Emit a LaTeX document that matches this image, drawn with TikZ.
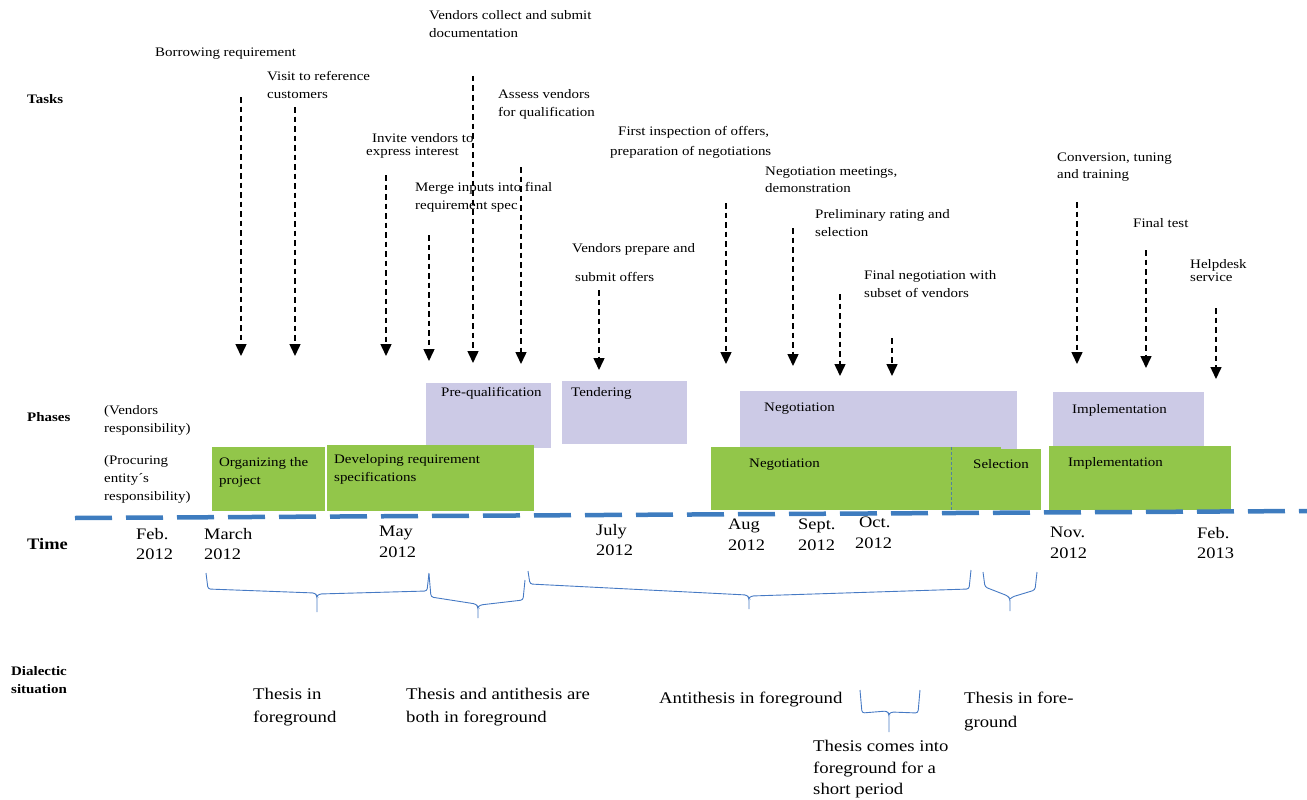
\documentclass[tikz,border=0pt]{standalone}
\usepackage{fontspec}
\setmainfont{Liberation Serif}
\newfontfamily\ser[FakeStretch=1.15]{Liberation Serif}
\usetikzlibrary{arrows.meta}
\definecolor{lav}{RGB}{204,202,230}
\definecolor{grn}{RGB}{146,198,74}
\definecolor{axblue}{RGB}{62,124,191}
\definecolor{brblue}{RGB}{70,122,196}
\definecolor{divblue}{RGB}{80,130,160}
\tikzset{
  tsk/.style={anchor=north west, inner sep=0pt, align=left, yshift=-1.5pt, font=\ser\fontsize{13}{18}\selectfont},
  lbl/.style={anchor=north west, inner sep=0pt, align=left, font=\ser\bfseries\fontsize{13}{18}\selectfont},
  tim/.style={anchor=north west, inner sep=0pt, align=left, yshift=-2pt, font=\ser\fontsize{16}{20.5}\selectfont},
  dia/.style={anchor=north west, inner sep=0pt, align=left, yshift=-2pt, font=\ser\fontsize{16.3}{22.5}\selectfont},
  arr/.style={draw, line width=1.5pt, dash pattern=on 5.5pt off 4pt, -{Triangle[length=12pt,width=11pt]}},
  axisline/.style={draw=axblue, line width=4.5pt, dash pattern=on 37pt off 14pt},
  brc/.style={draw=brblue, line width=0.9pt, rounded corners=2.5pt},
  lavbox/.style={fill=lav},
  grnbox/.style={fill=grn},
}
\newcommand\mybrace[9]{%
  \draw[brc] (#1,#2) -- ({#1+2},#3) -- ({#4-2},#5) -- (#4,{#5+3}) -- (#4,#6);
  \draw[brc] (#4,{#5+3}) -- ({#4+2},{#5+1}) -- ({#8-2},#7) -- (#8,#9);
}
\begin{document}
\begin{tikzpicture}[x=1pt,y=-1pt]
\useasboundingbox (0,0) rectangle (1307,800);

% ---------- left labels ----------
\node[lbl] (tasks) at (27,94) {Tasks};
\node[lbl] (phases) at (27,412) {Phases};
\node[tsk] (vresp) at (104,404) {(Vendors\\responsibility)};
\node[tsk] (presp) at (104,454) {(Procuring\\entity´s\\responsibility)};
\node[lbl, font=\ser\bfseries\fontsize{16}{20}\selectfont] (time) at (27,538) {Time};
\node[lbl] (dial) at (11,666) {Dialectic\\situation};

% ---------- phase boxes ----------
\path[lavbox] (426,383) rectangle (551,448);
\path[lavbox] (562,381) rectangle (687,444);
\path[lavbox] (740,391) rectangle (1017,449);
\path[lavbox] (1053,392) rectangle (1204,446);
\path[grnbox] (212,447) rectangle (325,511);
\path[grnbox] (327,445) rectangle (534,511);
\path[grnbox] (711,447) rectangle (1001,510);
\path[grnbox] (951,449) rectangle (1041,510);
\path[grnbox] (1049,446) rectangle (1231,510);
\coordinate (divtop) at (951,447);
\coordinate (divbot) at (951,510);
\draw[divblue, line width=0.9pt, dash pattern=on 3pt off 2pt] (divtop) -- (divbot);

\node[tsk] (pq) at (441,386) {Pre-qualification};
\node[tsk] (tend) at (571,386) {Tendering};
\node[tsk] (negv) at (764,401) {Negotiation};
\node[tsk] (implv) at (1072,403) {Implementation};
\node[tsk] (org) at (219,456) {Organizing the\\project};
\node[tsk] (dev) at (334,453) {Developing requirement\\specifications};
\node[tsk] (negp) at (749,457) {Negotiation};
\node[tsk] (sel) at (973,458) {Selection};
\node[tsk] (implp) at (1068,456) {Implementation};

% ---------- time axis ----------
\coordinate (axL) at (75,518);
\coordinate (axR) at (1307,511);
\draw[axisline] (axL) -- (axR);

\node[tim] (m1) at (136,526) {Feb.\\2012};
\node[tim] (m2) at (204,526) {March\\2012};
\node[tim] (m3) at (379,524) {May\\2012};
\node[tim] (m4) at (596,522) {July\\2012};
\node[tim] (m5) at (728,517) {Aug\\2012};
\node[tim] (m6) at (798,517) {Sept.\\2012};
\node[tim] (m7) at (855,515) {\hspace*{4pt}Oct.\\2012};
\node[tim] (m8) at (1050,525) {Nov.\\2012};
\node[tim] (m9) at (1197,525) {Feb.\\2013};

% ---------- tasks ----------
\node[tsk] (t1) at (155,46) {Borrowing requirement};
\node[tsk] (t2) at (267,70) {Visit to reference\\customers};
\node[tsk] (t3) at (372,132) {Invite vendors to\\[-5pt]\hspace*{-6pt}express interest};
\node[tsk] (t4) at (415,181) {Merge inputs into final\\requirement spec};
\node[tsk] (t5) at (429,9) {Vendors collect and submit\\documentation};
\node[tsk] (t6) at (498,88) {Assess vendors\\for qualification};
\node[tsk] (t7) at (572,242) {Vendors prepare and\\[11pt]\hspace*{3pt}submit offers};
\node[tsk] (t8) at (618,125) {First inspection of offers,\\[2pt]\hspace*{-8pt}preparation of negotiations};
\node[tsk] (t9) at (765,165) {Negotiation meetings,\\[-1pt]demonstration};
\node[tsk] (t10) at (815,208) {Preliminary rating and\\selection};
\node[tsk] (t11) at (864,269) {Final negotiation with\\subset of vendors};
\node[tsk] (t12) at (1057,151) {Conversion, tuning\\[-1pt]and training};
\node[tsk] (t13) at (1133,217) {Final test};
\node[tsk] (t14) at (1190,258) {Helpdesk\\[-5pt]service};

\foreach \n/\x/\ya/\yb in {1/241/97/356, 2/295/107/356, 3/386/175/356, 4/429/235/361,
  5/473/76/363, 6/521/167/364, 7/599/290/370, 8/726/203/364, 9/793/228/366,
  10/840/294/376, 11/892/338/376, 12/1077/202/364, 13/1146/250/368, 14/1216/308/379}{
  \coordinate (s\n) at (\x,\ya);
  \coordinate (e\n) at (\x,\yb);
  \draw[arr] (s\n) -- (e\n);
}

% ---------- braces ----------
\mybrace{206}{573}{589}{317}{593}{612}{591}{429}{573}
\mybrace{429}{574}{597}{478}{604}{618}{600}{525}{580}
\mybrace{528}{571}{584}{749}{595}{609}{589}{971}{570}
\mybrace{983}{572}{587}{1010}{596}{611}{590}{1037}{572}
\mybrace{860}{690}{713}{889}{711}{732}{713}{920}{690}

% ---------- dialectic situations ----------
\node[dia] (d1) at (253,686) {Thesis in\\foreground};
\node[dia] (d2) at (406,686) {Thesis and antithesis are\\both in foreground};
\node[dia] (d3) at (659,690) {Antithesis in foreground};
\node[dia] (d4) at (964,690) {Thesis in fore-\\[1pt]ground};
\node[dia] (d5) at (813,738) {Thesis comes into\\[-1pt]foreground for a\\[-1pt]short period};
\end{tikzpicture}
\end{document}
